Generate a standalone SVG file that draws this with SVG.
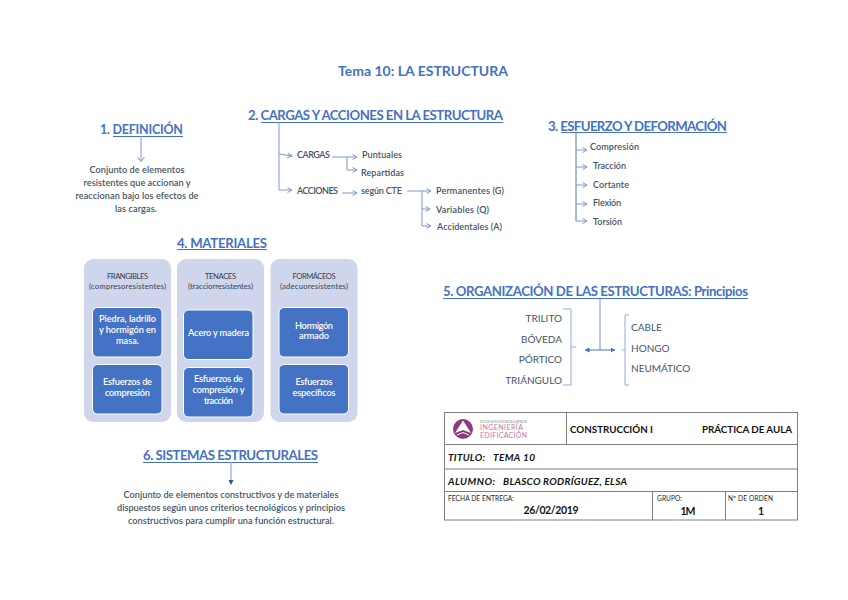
<svg xmlns="http://www.w3.org/2000/svg" width="848" height="600" viewBox="0 0 848 600">
<style>
text{font-family:"Lato","Liberation Sans",sans-serif}
.h{font-size:13.2px;font-weight:700;fill:#4472c4}
.d{font-size:9.2px;fill:#44546a;font-weight:600}
.s{font-size:9px;fill:#44546a;font-weight:600}
.m{text-anchor:middle}
.pt{font-size:7.6px;fill:#333f50;text-anchor:middle}
.bt{font-size:9.2px;fill:#fff;text-anchor:middle;font-weight:600}
.p5{font-size:10px;fill:#44546a}
.panel{fill:#cfd5ea}
.box{fill:#4472c4;stroke:#fff;stroke-width:1}
.ul{stroke:#4472c4;stroke-width:1;fill:none}
.c{stroke:#7f97cf;stroke-width:1;fill:none}
.ca{marker-end:url(#open)}
.br{stroke:#8faadc;stroke-width:1;fill:none}
.tl{stroke:#7f7f7f;stroke-width:1;fill:none}
.t1{font-size:9.8px;font-weight:700;fill:#111}
.t2{font-size:10px;font-weight:700;font-style:italic;fill:#111}
.t3{font-size:6.6px;fill:#222}
.t4{font-size:10.5px;font-weight:700;fill:#111;text-anchor:middle}
</style>
<defs>
<marker id="open" markerWidth="7" markerHeight="7" refX="5.5" refY="3" orient="auto" markerUnits="userSpaceOnUse"><path d="M1 .5 5.500 3 1 5.500" fill="none" stroke="#7f97cf" stroke-width="1"/></marker>
<marker id="solid" markerWidth="6" markerHeight="6" refX="4.5" refY="2.5" orient="auto" markerUnits="userSpaceOnUse"><path d="M0 0 5 2.500 0 5z" fill="#4472c4"/></marker>
<marker id="solidS" markerWidth="6" markerHeight="6" refX="0.5" refY="2.5" orient="auto" markerUnits="userSpaceOnUse"><path d="M5 0 0 2.500 5 5z" fill="#4472c4"/></marker>
</defs>
<rect width="848" height="600" fill="#fff"/>

<g id="connectors">
<path class="ul" d="M113 136.500H183M261 122.500H503M561 132.500H727M177 249.500H267M443 298.500H748M143 462.500H318"/>
<path class="c" d="M141 136V161"/><path d="M137.500 157 141 161.500 144.500 157" fill="none" stroke="#7f8fb0"/>
<path class="c ca" d="M279 122V154L292 156"/>
<path class="c ca" d="M279 154V190H292"/>
<path class="c ca" d="M332 157H357"/>
<path class="c ca" d="M347 157V170H357"/>
<path class="c ca" d="M342 193H357"/>
<path class="c ca" d="M407 191H431"/>
<path class="c ca" d="M422 191V209H430"/>
<path class="c ca" d="M422 209V226H431"/>
<path class="c" style="stroke:#4f72b8" d="M576 132V221"/>
<path class="c ca" d="M576 150H587"/>
<path class="c ca" d="M576 167H587"/>
<path class="c ca" d="M576 185H587"/>
<path class="c ca" d="M576 204H587"/>
<path class="c ca" d="M576 221H587"/>
<path class="c" style="stroke:#6f94d6" d="M600 299V350"/>
<path d="M585 350H615" fill="none" stroke="#4472c4" marker-start="url(#solidS)" marker-end="url(#solid)"/>
<path class="br" d="M563 309H571V385H563M571 347H576"/>
<path class="br" d="M629 315H625V385H629M625 350H622"/>
<path class="c" d="M231 462V484"/>
<path d="M228.500 480H233.500L231 485z" fill="#2f5597"/>
</g>

<g id="title"><text class="m" x="423" y="76" font-size="14" font-weight="700" fill="#4472c4" textLength="170">Tema 10: LA ESTRUCTURA</text></g>

<g id="n1">
<text class="h" x="100" y="134" style="font-size:12.5px" textLength="83">1. DEFINICIÓN</text>
<text class="d m" x="137" y="173" textLength="95">Conjunto de elementos</text>
<text class="d m" x="137" y="186" textLength="107">resistentes que accionan y</text>
<text class="d m" x="137" y="199" textLength="123">reaccionan bajo los efectos de</text>
<text class="d m" x="136" y="212" textLength="42">las cargas.</text>
</g>

<g id="n2">
<text class="h" x="248" y="120" textLength="255">2. CARGAS Y ACCIONES EN LA ESTRUCTURA</text>
<text class="s" x="297" y="158" textLength="33">CARGAS</text>
<text class="s" x="362" y="158" textLength="40">Puntuales</text>
<text class="s" x="361" y="176" textLength="43">Repartidas</text>
<text class="s" x="297" y="194" textLength="41">ACCIONES</text>
<text class="s" x="361" y="194" textLength="41">según CTE</text>
<text class="s" x="436" y="194" textLength="68">Permanentes (G)</text>
<text class="s" x="436" y="213" textLength="53">Variables (Q)</text>
<text class="s" x="437" y="230" textLength="65">Accidentales (A)</text>
</g>

<g id="n3">
<text class="h" x="548" y="131" textLength="179">3. ESFUERZO Y DEFORMACIÓN</text>
<text class="s" x="590" y="150" textLength="49">Compresión</text>
<text class="s" x="593" y="169" textLength="33">Tracción</text>
<text class="s" x="593" y="188" textLength="36">Cortante</text>
<text class="s" x="593" y="206" textLength="28">Flexión</text>
<text class="s" x="593" y="225" textLength="29">Torsión</text>
</g>

<g id="n4">
<text class="h" x="177" y="248" textLength="90">4. MATERIALES</text>
<rect class="panel" x="84" y="259" width="87" height="163" rx="9"/>
<rect class="panel" x="177" y="259" width="87" height="163" rx="9"/>
<rect class="panel" x="270.500" y="259" width="87" height="163" rx="9"/>
<text class="pt" x="127.500" y="279" textLength="41">FRANGIBLES</text>
<text class="pt" x="127.500" y="289" textLength="77">(compresoresistentes)</text>
<text class="pt" x="220.500" y="279" textLength="31">TENACES</text>
<text class="pt" x="220.500" y="289" textLength="65">(tracciorresistentes)</text>
<text class="pt" x="314" y="279" textLength="43">FORMÁCEOS</text>
<text class="pt" x="314" y="289" textLength="68">(adecuoresistentes)</text>
<rect class="box" x="92.500" y="307.500" width="69.500" height="49.500" rx="5"/>
<text class="bt" x="127.500" y="322" textLength="57">Piedra, ladrillo</text>
<text class="bt" x="127.500" y="333" textLength="57">y hormigón en</text>
<text class="bt" x="127.500" y="344" textLength="23">masa.</text>
<rect class="box" x="92.500" y="364.500" width="69.500" height="49.500" rx="5"/>
<text class="bt" x="127.500" y="385" textLength="49">Esfuerzos de</text>
<text class="bt" x="127.500" y="396" textLength="45">compresión</text>
<rect class="box" x="183.500" y="310" width="69.500" height="49.500" rx="5"/>
<text class="bt" x="218.500" y="336" textLength="61">Acero y madera</text>
<rect class="box" x="183.500" y="367.500" width="69.500" height="49.500" rx="5"/>
<text class="bt" x="218.500" y="382" textLength="49">Esfuerzos de</text>
<text class="bt" x="218.500" y="393" textLength="52">compresión y</text>
<text class="bt" x="218.500" y="404" textLength="29">tracción</text>
<rect class="box" x="279" y="307.500" width="69.500" height="49.500" rx="5"/>
<text class="bt" x="314" y="329" textLength="38">Hormigón</text>
<text class="bt" x="314" y="339" textLength="30">armado</text>
<rect class="box" x="279" y="364.500" width="69.500" height="49.500" rx="5"/>
<text class="bt" x="314" y="385" textLength="37">Esfuerzos</text>
<text class="bt" x="314" y="396" textLength="43">específicos</text>
</g>

<g id="n5">
<text class="h" x="443" y="296" textLength="305">5. ORGANIZACIÓN DE LAS ESTRUCTURAS: Principios</text>
<text class="p5" x="562" y="322" text-anchor="end">TRILITO</text>
<text class="p5" x="562" y="342.500" text-anchor="end">BÓVEDA</text>
<text class="p5" x="562" y="363" text-anchor="end">PÓRTICO</text>
<text class="p5" x="562" y="384" text-anchor="end">TRIÁNGULO</text>
<text class="p5" x="631" y="331">CABLE</text>
<text class="p5" x="631" y="352">HONGO</text>
<text class="p5" x="631" y="372">NEUMÁTICO</text>
</g>

<g id="n6">
<text class="h" x="143" y="460" textLength="175">6. SISTEMAS ESTRUCTURALES</text>
<text class="d m" x="231" y="498" textLength="215">Conjunto de elementos constructivos y de materiales</text>
<text class="d m" x="231" y="511" textLength="228">dispuestos según unos criterios tecnológicos y principios</text>
<text class="d m" x="231" y="524" textLength="206">constructivos para cumplir una función estructural.</text>
</g>

<g id="cajetin">
<rect class="tl" x="444.500" y="412.500" width="353" height="107.500"/>
<path class="tl" d="M444.500 444.500H797.500M444.500 469H797.500M444.500 491.500H797.500M566.500 412.500V444.500M652.500 491.500V520M725.500 491.500V520"/>
<circle cx="463" cy="429" r="10" fill="#8e3a80"/>
<path d="M463 420.500 471 433 463 430 455 433z" fill="#fff"/>
<path d="M457 435 463 432.500 469 435" fill="none" stroke="#fff"/>
<text x="480" y="423" font-size="3.500" fill="#999" textLength="47">ESCUELA POLITÉCNICA SUPERIOR</text>
<text x="480" y="430" font-size="7" fill="#b879ad" textLength="43">INGENIERÍA</text>
<text x="480" y="438" font-size="7" fill="#b879ad" textLength="47">EDIFICACIÓN</text>
<text class="t1" x="570" y="433" textLength="83">CONSTRUCCIÓN I</text>
<text class="t1" x="702" y="433" textLength="90">PRÁCTICA DE AULA</text>
<text class="t2" x="448" y="461" textLength="37">TITULO:</text>
<text class="t2" x="493" y="461" textLength="42">TEMA 10</text>
<text class="t2" x="448" y="485" textLength="47">ALUMNO:</text>
<text class="t2" x="503" y="485" textLength="124">BLASCO RODRÍGUEZ, ELSA</text>
<text class="t3" x="448" y="501" textLength="66">FECHA DE ENTREGA:</text>
<text class="t4" x="551" y="514" textLength="55">26/02/2019</text>
<text class="t3" x="657" y="501" textLength="25">GRUPO:</text>
<text class="t4" x="688" y="515" textLength="15">1M</text>
<text class="t3" x="728" y="501" textLength="45">Nº DE ORDEN</text>
<text class="t4" x="761" y="515">1</text>
</g>
</svg>
